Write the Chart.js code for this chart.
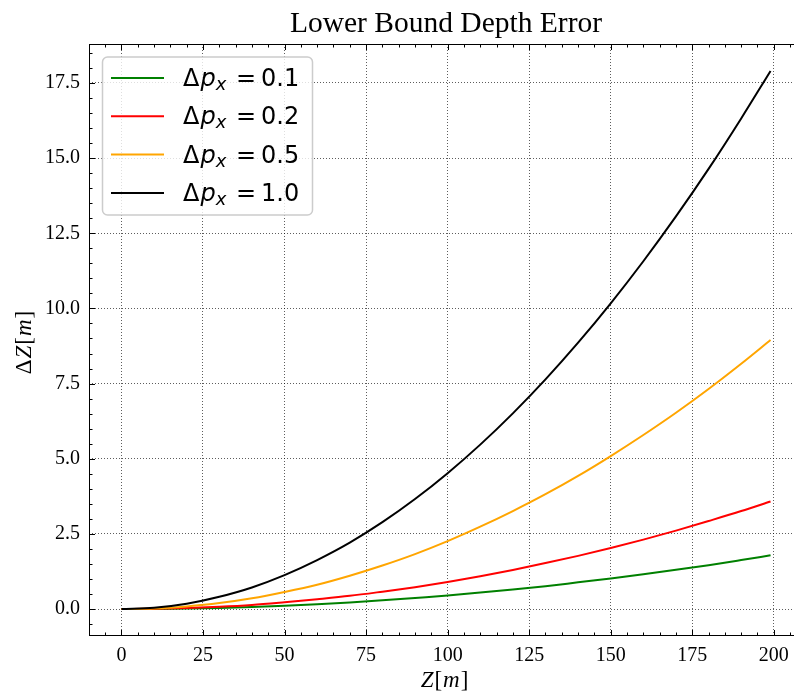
<!DOCTYPE html>
<html>
<head>
<meta charset="utf-8">
<script src="https://cdn.jsdelivr.net/npm/chart.js@4.4.1/dist/chart.umd.min.js"></script>
<style>
  html, body { margin: 0; padding: 0; background: #fff; overflow: hidden; }
  #wrap { position: absolute; left: 0; top: 0; width: 810px; height: 693px; }
</style>
</head>
<body>
<div id="wrap"><canvas id="chart" width="810" height="693"></canvas></div>
<script>
// depth Z [m] (x values)
const depthZ = [0, 10, 20, 30, 40, 50, 60, 70, 80, 90, 100, 110, 120, 130, 140, 150, 160, 170, 180, 190, 199];

// ΔZ [m]
const errP01 = [0, 0.005, 0.02, 0.04, 0.07, 0.11, 0.16, 0.22, 0.29, 0.37, 0.45, 0.55, 0.65, 0.76, 0.89, 1.02, 1.16, 1.31, 1.46, 1.63, 1.79];
const errP02 = [0, 0.01, 0.04, 0.08, 0.14, 0.23, 0.33, 0.44, 0.58, 0.73, 0.90, 1.09, 1.30, 1.53, 1.77, 2.03, 2.31, 2.61, 2.93, 3.26, 3.58];
const errP05 = [0, 0.02, 0.09, 0.20, 0.36, 0.57, 0.81, 1.11, 1.45, 1.83, 2.26, 2.74, 3.26, 3.82, 4.43, 5.09, 5.79, 6.53, 7.32, 8.16, 8.95];
const errP10 = [0, 0.045, 0.18, 0.41, 0.72, 1.13, 1.63, 2.21, 2.89, 3.66, 4.52, 5.47, 6.51, 7.64, 8.86, 10.17, 11.57, 13.06, 14.64, 16.32, 17.9];

const seriesLabels = ['0.1', '0.2', '0.5', '1.0'];
const seriesColors = ['#008000', '#ff0000', '#ffa500', '#000000'];
const seriesValues = [errP01, errP02, errP05, errP10];

const xTicks = [0, 25, 50, 75, 100, 125, 150, 175, 200];
const yTicks = [0, 2.5, 5, 7.5, 10, 12.5, 15, 17.5];

const titleText = 'Lower Bound Depth Error';

// inward ticks, frame, title, axis labels and legend (matplotlib look)
const decorPlugin = {
    id: 'decor',
    afterDatasetsDraw(chart) {
        const { ctx, chartArea: a, scales: { x, y } } = chart;
        ctx.save();
        ctx.strokeStyle = '#000';
        ctx.lineWidth = 1;

        // frame
        ctx.strokeRect(a.left + 0.5, a.top + 0.5, a.right - a.left - 1, a.bottom - a.top - 1);

        // x ticks (bottom + top)
        ctx.beginPath();
        for (let v = -5; v <= 205; v += 5) {
            const px = Math.round(x.getPixelForValue(v)) + 0.5;
            if (px < a.left || px > a.right) continue;
            const len = v % 25 === 0 ? 6 : 3.5;
            ctx.moveTo(px, a.bottom); ctx.lineTo(px, a.bottom - len);
            ctx.moveTo(px, a.top); ctx.lineTo(px, a.top + len);
        }
        // y ticks (left + right)
        for (let i = -1; i <= 37; i++) {
            const v = i * 0.5;
            const py = Math.round(y.getPixelForValue(v)) + 0.5;
            if (py < a.top || py > a.bottom) continue;
            const len = i % 5 === 0 ? 6 : 3.5;
            ctx.moveTo(a.left, py); ctx.lineTo(a.left + len, py);
            ctx.moveTo(a.right, py); ctx.lineTo(a.right - len, py);
        }
        ctx.stroke();

        // legend
        const lx = 102.5, ly = 57, lw = 210, lh = 158, r = 5;
        ctx.beginPath();
        ctx.moveTo(lx + r, ly);
        ctx.arcTo(lx + lw, ly, lx + lw, ly + lh, r);
        ctx.arcTo(lx + lw, ly + lh, lx, ly + lh, r);
        ctx.arcTo(lx, ly + lh, lx, ly, r);
        ctx.arcTo(lx, ly, lx + lw, ly, r);
        ctx.closePath();
        ctx.fillStyle = 'rgba(255,255,255,0.8)';
        ctx.fill();
        ctx.strokeStyle = '#cccccc';
        ctx.lineWidth = 1.5;
        ctx.stroke();

        chart.data.datasets.forEach((ds, i) => {
            const rowY = 78 + i * 38.3;
            ctx.strokeStyle = ds.borderColor;
            ctx.lineWidth = 2;
            ctx.beginPath();
            ctx.moveTo(111, rowY);
            ctx.lineTo(164, rowY);
            ctx.stroke();

            const base = rowY + 8;
            ctx.fillStyle = '#000';
            ctx.textBaseline = 'alphabetic';
            ctx.textAlign = 'left';
            let tx = 183;
            ctx.font = '24px "DejaVu Sans"';
            ctx.fillText('\u0394', tx, base);
            tx += ctx.measureText('\u0394').width + 1;
            ctx.font = 'italic 24px "DejaVu Sans"';
            ctx.fillText('p', tx, base);
            tx += ctx.measureText('p').width;
            ctx.font = 'italic 18px "DejaVu Sans"';
            ctx.fillText('x', tx, base + 4);
            ctx.font = '24px "DejaVu Sans"';
            ctx.fillText('=', 236, base);
            ctx.fillText(seriesLabels[i], 261, base);
        });

        ctx.restore();
    },
    afterDraw(chart) {
        const { ctx, chartArea: a } = chart;
        const cx = (a.left + a.right) / 2;
        ctx.save();
        ctx.fillStyle = '#000';
        ctx.textBaseline = 'alphabetic';

        // title
        ctx.font = '29.5px "Liberation Serif"';
        ctx.textAlign = 'center';
        ctx.fillText(titleText, cx, 32);

        // mixed italic / upright axis label
        const parts = (withDelta) => {
            const p = [];
            if (withDelta) p.push(['\u0394', '23px "Liberation Serif"']);
            p.push(['Z', 'italic 23px "Liberation Serif"']);
            p.push(['[', '23px "Liberation Serif"']);
            p.push(['m', 'italic 23px "Liberation Serif"']);
            p.push([']', '23px "Liberation Serif"']);
            return p;
        };
        const drawParts = (list, startX, baseY) => {
            let xx = startX;
            ctx.textAlign = 'left';
            list.forEach(([t, f]) => {
                ctx.font = f;
                ctx.fillText(t, xx, baseY);
                xx += ctx.measureText(t).width + 1;
            });
        };
        const widthOf = (list) => list.reduce((s, [t, f]) => { ctx.font = f; return s + ctx.measureText(t).width + 1; }, 0);

        const xl = parts(false);
        drawParts(xl, 445 - widthOf(xl) / 2, 687);

        const yl = parts(true);
        ctx.save();
        ctx.translate(31, 342);
        ctx.rotate(-Math.PI / 2);
        drawParts(yl, -widthOf(yl) / 2, 0);
        ctx.restore();

        ctx.restore();
    }
};

new Chart(document.getElementById('chart').getContext('2d'), {
    type: 'line',
    data: {
        datasets: seriesValues.map((vals, i) => ({
            label: seriesLabels[i],
            data: depthZ.map((z, j) => ({ x: z, y: vals[j] })),
            borderColor: seriesColors[i],
            backgroundColor: seriesColors[i],
            borderWidth: 2,
            pointRadius: 0,
            fill: false,
            cubicInterpolationMode: 'monotone',
            order: seriesValues.length - i
        }))
    },
    options: {
        responsive: false,
        animation: false,
        devicePixelRatio: 1,
        layout: { padding: { top: 44, right: 7, left: 0, bottom: 0 } },
        plugins: {
            legend: { display: false },
            title: { display: false },
            tooltip: { enabled: false }
        },
        scales: {
            x: {
                type: 'linear',
                min: -9.95,
                max: 208.95,
                afterFit: (scale) => { scale.height = 57; },
                afterBuildTicks: (scale) => { scale.ticks = xTicks.map(v => ({ value: v })); },
                grid: { color: 'rgba(0,0,0,0.8)', lineWidth: 0.8, drawTicks: false },
                border: { display: false, dash: [1, 2] },
                ticks: {
                    padding: 8,
                    color: '#000',
                    font: { family: 'Liberation Serif', size: 20 },
                    maxRotation: 0,
                    callback: (v) => String(v)
                }
            },
            y: {
                type: 'linear',
                min: -0.895,
                max: 18.795,
                afterFit: (scale) => { scale.width = 89; },
                afterBuildTicks: (scale) => { scale.ticks = yTicks.map(v => ({ value: v })); },
                grid: { color: 'rgba(0,0,0,0.8)', lineWidth: 0.8, drawTicks: false },
                border: { display: false, dash: [1, 2] },
                ticks: {
                    padding: 9,
                    color: '#000',
                    font: { family: 'Liberation Serif', size: 20 },
                    callback: (v) => v.toFixed(1)
                }
            }
        }
    },
    plugins: [decorPlugin]
});
</script>
</body>
</html>
